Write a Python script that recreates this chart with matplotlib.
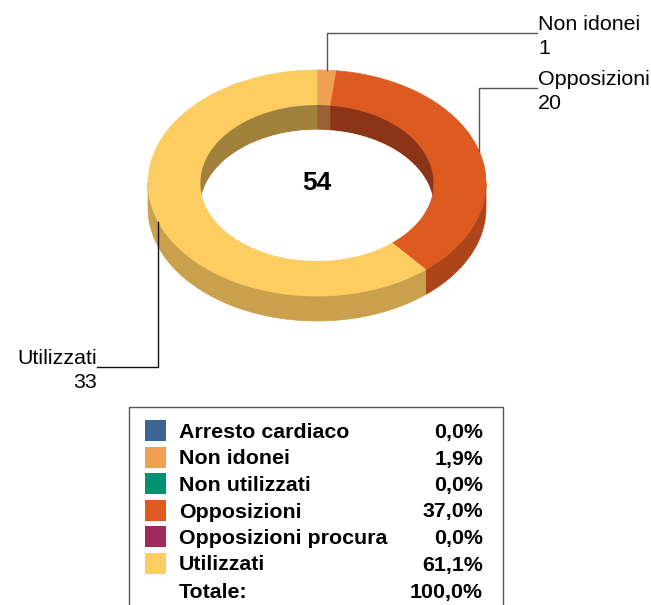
import matplotlib
matplotlib.use('Agg')
import matplotlib.pyplot as plt
import numpy as np
from matplotlib.patches import Polygon, Rectangle

categories = ['Arresto cardiaco', 'Non idonei', 'Non utilizzati', 'Opposizioni',
              'Opposizioni procura', 'Utilizzati']
counts = [0, 1, 0, 20, 0, 33]
top_colors = ['#3A6595', '#EFA052', '#009270', '#DD5A21', '#A0295E', '#FDCD62']
side_colors = ['#2B4B70', '#B8783C', '#006E54', '#AE4419', '#781F47', '#C9A14D']
wall_colors = ['#223B58', '#9A5F35', '#005A44', '#8C3516', '#601938', '#A1823D']
# label placement for the visible slices: elbow y and text x
label_pos = {'Non idonei': (33, 537, 'left'), 'Opposizioni': (88, 537, 'left'),
             'Utilizzati': (367, 97, 'right')}
line_colors = {'Non idonei': '#555555', 'Opposizioni': '#555555', 'Utilizzati': '#111111'}

plt.rcParams['font.family'] = ['Liberation Sans', 'DejaVu Sans']

# donut geometry in pixels
cx, cy = 317, 183
rx, ry = 169, 113
hole = 0.69
depth = 25
fs = 15.4


def arc(k, t1, t2, dy=0, n=120):
    t = np.radians(np.linspace(t1, t2, n))
    return np.column_stack([cx + k * rx * np.cos(t), cy - k * ry * np.sin(t) + dy])


def clip_range(lo, hi, a, b):
    out = []
    for k in range(-2, 3):
        s, e = max(lo, a + 360 * k), min(hi, b + 360 * k)
        if e > s:
            out.append((s, e))
    return out


fig = plt.figure(figsize=(6.51, 6.05), dpi=100)
ax = fig.add_axes([0, 0, 1, 1])
ax.set_xlim(0, 651)
ax.set_ylim(605, 0)
ax.axis('off')

total = sum(counts)
slices = []
start = 90.0
for name, c, tc, sc, wc in zip(categories, counts, top_colors, side_colors, wall_colors):
    if c == 0:
        continue
    end = start - c / total * 360
    slices.append((name, c, end, start, tc, sc, wc))
    start = end

# outer side walls (front half)
for name, c, lo, hi, tc, sc, wc in slices:
    for s, e in clip_range(lo, hi, -180, 0):
        pts = np.vstack([arc(1, s, e), arc(1, e, s, depth)])
        ax.add_patch(Polygon(pts, closed=True, fc=sc, ec=sc, lw=0.5))

# top faces
for name, c, lo, hi, tc, sc, wc in slices:
    pts = np.vstack([arc(1, lo, hi), arc(hole, hi, lo)])
    ax.add_patch(Polygon(pts, closed=True, fc=tc, ec=tc, lw=0.5))

# inner wall (back half) and hole
inner = Polygon(arc(hole, 0, 360, n=360), closed=True, fc='none', ec='none')
ax.add_patch(inner)
for name, c, lo, hi, tc, sc, wc in slices:
    for s, e in clip_range(lo, hi, 0, 180):
        pts = np.vstack([arc(hole, s, e), arc(hole, e, s, depth)])
        p = Polygon(pts, closed=True, fc=wc, ec=wc, lw=0.5)
        ax.add_patch(p)
        p.set_clip_path(inner)
white = Polygon(arc(hole, 0, 360, depth, n=360), closed=True, fc='white', ec='white', lw=0.5)
ax.add_patch(white)
white.set_clip_path(inner)

ax.text(cx, cy, str(total), ha='center', va='center', fontsize=19, fontweight='bold')

# leader lines and labels
for name, c, lo, hi, tc, sc, wc in slices:
    mid = np.radians((lo + hi) / 2)
    x0, y0 = cx + rx * np.cos(mid), cy - ry * np.sin(mid)
    ly, lx, ha = label_pos[name]
    ax.plot([x0, x0, lx], [y0, ly, ly], color=line_colors[name], lw=1)
    ax.text(lx + (1 if ha == 'left' else 0), ly - 3, name, ha=ha, va='baseline', fontsize=fs)
    ax.text(lx + (1 if ha == 'left' else 0), ly + 21, str(c), ha=ha, va='baseline', fontsize=fs)

# legend table
ax.add_patch(Rectangle((129, 407), 374, 260, fc='white', ec='#555555', lw=1))
row0, step = 438, 26.5
for i, (name, c, col) in enumerate(zip(categories, counts, top_colors)):
    yb = row0 + i * step
    ax.add_patch(Rectangle((145, yb - 18), 21, 21, fc=col, ec='none'))
    ax.text(179, yb, name, ha='left', va='baseline', fontsize=fs, fontweight='bold')
    pct = f'{c / total * 100:.1f}%'.replace('.', ',')
    ax.text(483, yb, pct, ha='right', va='baseline', fontsize=fs, fontweight='bold')
yb = row0 + len(categories) * step + 1
ax.text(179, yb, 'Totale:', ha='left', va='baseline', fontsize=fs, fontweight='bold')
ax.text(483, yb, f'{100:.1f}%'.replace('.', ','), ha='right', va='baseline',
        fontsize=fs, fontweight='bold')

fig.savefig('out.png', dpi=100)
